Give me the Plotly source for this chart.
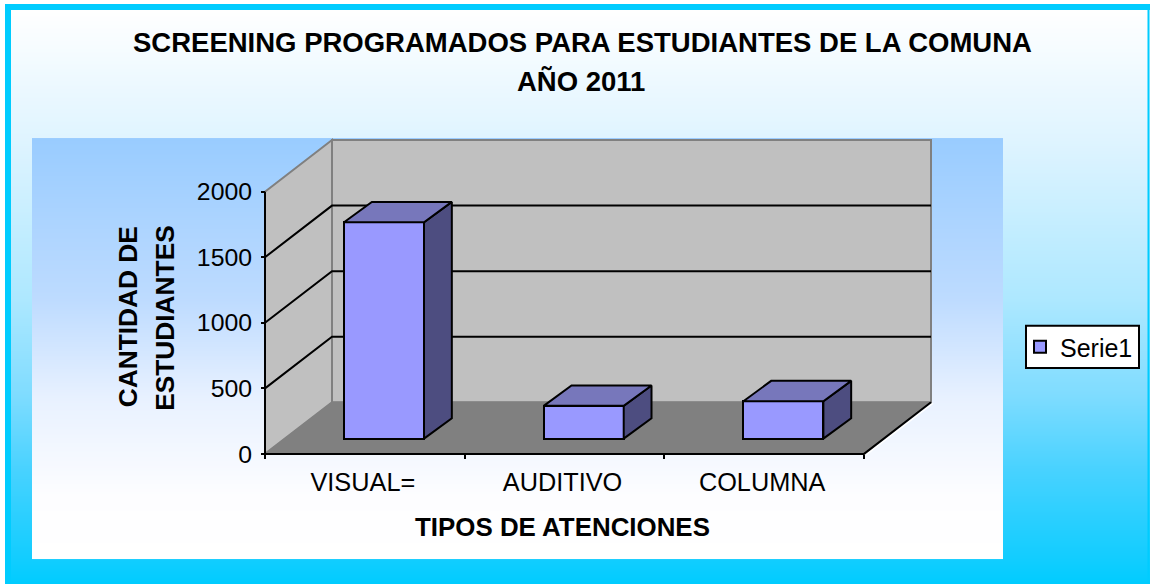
import numpy as np
import plotly.graph_objects as go

# ---- data ----
categories = ["VISUAL=", "AUDITIVO", "COLUMNA"]
values = [1650, 250, 285]
y_ticks = [0, 500, 1000, 1500, 2000]
series_name = "Serie1"
title_line1 = "SCREENING PROGRAMADOS PARA ESTUDIANTES DE LA COMUNA"
title_line2 = "AÑO 2011"
x_title = "TIPOS DE ATENCIONES"
y_title1 = "CANTIDAD DE"
y_title2 = "ESTUDIANTES"

W, H = 1150, 588
FONT = "Liberation Sans, Arial, sans-serif"

# ---- pixel <-> axis scale of the fake 3D box ----
PX_PER_CAT = 199.67
PX_PER_VAL = 0.132
X0_PX, Y0_PX = 265, 457


def cat_of(px):
    return -0.5 + (px - X0_PX) / PX_PER_CAT


def val_of(py):
    return (Y0_PX - py) / PX_PER_VAL


WALL_DX = 67 / PX_PER_CAT      # depth of the box
WALL_DY = 52 / PX_PER_VAL
BAR_OFF_X = 19.2 / PX_PER_CAT  # front of bars inside the box
BAR_BASE = 15.4 / PX_PER_VAL
BAR_W = 80 / PX_PER_CAT
BAR_DX = 27.8 / PX_PER_CAT     # depth of each bar
BAR_DY = 20.5 / PX_PER_VAL
X_LEFT, X_RIGHT = -0.5, 2.5
Y_MAX = 2000
LABEL_SHIFT = 2 / PX_PER_CAT

fig = go.Figure()

# ---- gradient backgrounds on a full-page pixel axis ----
outer_scale = [[0, "#FFFFFF"], [0.225, "#DFF4FF"], [0.50, "#AEE8FF"], [0.67, "#7FDCFF"],
               [0.80, "#48D2FF"], [0.95, "#14CDFF"], [1, "#00CCFF"]]
panel_scale = [[0, "#99CCFF"], [0.38, "#BDDBFF"], [0.62, "#E8F1FF"], [0.85, "#FDFDFF"], [1, "#FFFFFF"]]


def gradient(x0, x1, y0, y1, scale):
    rows = np.arange(y0, y1 + 2)      # cell edges
    t = (rows[:-1] - y0) / (y1 - y0)
    return go.Heatmap(x=[x0, (x0 + x1) / 2, x1], y=rows, z=np.column_stack([t, t]), zmin=0, zmax=1,
                      colorscale=scale, showscale=False, hoverinfo="skip",
                      xaxis="x", yaxis="y")


fig.add_trace(gradient(5, 1150, 10, 588, outer_scale))
fig.add_trace(gradient(32, 1003, 139, 562, panel_scale))

# ---- real bars (front faces) ----
fig.add_trace(go.Bar(
    x=list(range(len(categories))), y=values, base=BAR_BASE, name=series_name,
    width=BAR_W, offset=BAR_OFF_X - BAR_W / 2,
    marker=dict(color="#9999FF", line=dict(color="black", width=2)),
    xaxis="x2", yaxis="y2", showlegend=True))


# ---- side and top faces of bars, derived from the values ----
def faces():
    sx, sy, tx, ty = [], [], [], []
    for i, v in enumerate(values):
        l = i + BAR_OFF_X - BAR_W / 2
        r = l + BAR_W
        b = BAR_BASE
        t = BAR_BASE + v
        sx += [r, r + BAR_DX, r + BAR_DX, r, r, None]
        sy += [b, b + BAR_DY, t + BAR_DY, t, b, None]
        tx += [l, l + BAR_DX, r + BAR_DX, r, l, None]
        ty += [t, t + BAR_DY, t + BAR_DY, t, t, None]
    return sx, sy, tx, ty


sx, sy, tx, ty = faces()
for fx, fy, col in ((sx, sy, "#4D4D80"), (tx, ty, "#7777BB")):
    fig.add_trace(go.Scatter(x=fx, y=fy, mode="lines", fill="toself", fillcolor=col,
                             line=dict(color="black", width=2), showlegend=False,
                             hoverinfo="skip", xaxis="x2", yaxis="y2"))

shapes = []
# frame around the page
for x0, x1, y0, y1 in ((5, 1150, 4, 10), (5, 11, 4, 588), (1147.5, 1149.5, 4, 588)):
    shapes.append(dict(type="rect", xref="x", yref="y", x0=x0, x1=x1, y0=y0, y1=y1,
                       fillcolor="#00CCFF", line=dict(width=0), layer="above"))
# legend box
shapes.append(dict(type="rect", xref="x", yref="y", x0=1026, x1=1139, y0=328, y1=370.5,
                   fillcolor="white", line=dict(color="black", width=2), layer="above"))


def poly(pts, fill=None, color=None, width=0):
    path = "M " + " L ".join(f"{a:.5f},{b:.3f}" for a, b in pts)
    if fill:
        path += " Z"
    return dict(type="path", xref="x2", yref="y2", path=path, fillcolor=fill or "rgba(0,0,0,0)",
                line=dict(color=color or "rgba(0,0,0,0)", width=width), layer="below")


BX0, BX1 = X_LEFT + WALL_DX, X_RIGHT + WALL_DX
# back wall, side wall, floor
shapes.append(poly([(BX0, WALL_DY), (BX1, WALL_DY), (BX1, Y_MAX + WALL_DY), (BX0, Y_MAX + WALL_DY)],
                   "#C0C0C0", "#808080", 2))
shapes.append(poly([(X_LEFT, 0), (BX0, WALL_DY), (BX0, Y_MAX + WALL_DY), (X_LEFT, Y_MAX)],
                   "#C0C0C0", "#808080", 2))
shapes.append(poly([(X_LEFT, 0), (X_RIGHT, 0), (BX1, WALL_DY), (BX0, WALL_DY)], "#808080", "#808080", 1))
# gridlines
for v in y_ticks[1:-1]:
    shapes.append(poly([(X_LEFT, v), (BX0, v + WALL_DY), (BX1, v + WALL_DY)], None, "black", 2))
# white highlight beside the floor's right edge, then axis edges
HX, HY = 2 / PX_PER_CAT, 1 / PX_PER_VAL
shapes.append(poly([(X_RIGHT + HX, -HY), (BX1 + HX, WALL_DY - HY)], None, "white", 1.5))
shapes.append(poly([(X_LEFT, 0), (X_LEFT, Y_MAX)], None, "black", 2))
shapes.append(poly([(X_LEFT, 0), (X_RIGHT, 0), (BX1, WALL_DY)], None, "black", 2))


def ann(text, x, y, size, bold=True, angle=0):
    return dict(text=f"<b>{text}</b>" if bold else text, x=x / W, y=1 - y / H, xref="paper", yref="paper",
                xanchor="center", yanchor="middle", showarrow=False, textangle=angle,
                font=dict(family=FONT, size=size, color="black"))


DOM_L, DOM_R, DOM_T, DOM_B = 255, 942, 134, 467
fig.update_layout(
    width=W, height=H, autosize=False,
    margin=dict(l=0, r=0, t=0, b=0, pad=0),
    paper_bgcolor="white", plot_bgcolor="rgba(0,0,0,0)",
    font=dict(family=FONT, size=25.3, color="black"),
    xaxis=dict(domain=[0, 1], range=[0, W], visible=False, fixedrange=True),
    yaxis=dict(domain=[0, 1], range=[H, 0], visible=False, fixedrange=True),
    xaxis2=dict(domain=[DOM_L / W, DOM_R / W], range=[cat_of(DOM_L), cat_of(DOM_R)],
                anchor="free", position=1 - Y0_PX / H,
                tickmode="array", tickvals=[i - LABEL_SHIFT for i in range(len(categories))],
                ticktext=categories,
                ticks="", showline=False, showgrid=False, zeroline=False, fixedrange=True,
                ticklabelstandoff=11,
                minor=dict(tickmode="array", tickvals=[X_LEFT + i for i in range(len(categories) + 1)],
                           ticks="outside", ticklen=4, tickwidth=2, tickcolor="black", showgrid=False),
                tickfont=dict(family=FONT, size=25.3, color="black")),
    yaxis2=dict(domain=[1 - DOM_B / H, 1 - DOM_T / H], range=[val_of(DOM_B), val_of(DOM_T)],
                anchor="free", position=X0_PX / W,
                tickmode="array", tickvals=y_ticks, ticks="outside", ticklen=4, tickwidth=2,
                tickcolor="black", showline=False, showgrid=False, zeroline=False, fixedrange=True,
                ticklabelstandoff=4,
                tickfont=dict(family=FONT, size=24.8, color="black")),
    shapes=shapes,
    annotations=[
        ann(title_line1, 582, 43, 27.5),
        ann(title_line2, 581, 82, 27.5),
        ann(x_title, 562, 531, 25.9),
        ann(y_title1, 128, 319.5, 26.3, angle=-90),
        ann(y_title2, 165, 320, 26.3, angle=-90),
    ],
    legend=dict(x=1020 / W, y=1 - 349.5 / H, xanchor="left", yanchor="middle", bgcolor="rgba(0,0,0,0)",
                borderwidth=0, font=dict(family=FONT, size=25, color="black"),
                itemwidth=30, tracegroupgap=0),
    showlegend=True,
    bargap=0,
)

fig.write_html("out.html", config=dict(displayModeBar=False),
               post_script="document.body.style.margin='0';document.body.style.overflow='hidden';")
